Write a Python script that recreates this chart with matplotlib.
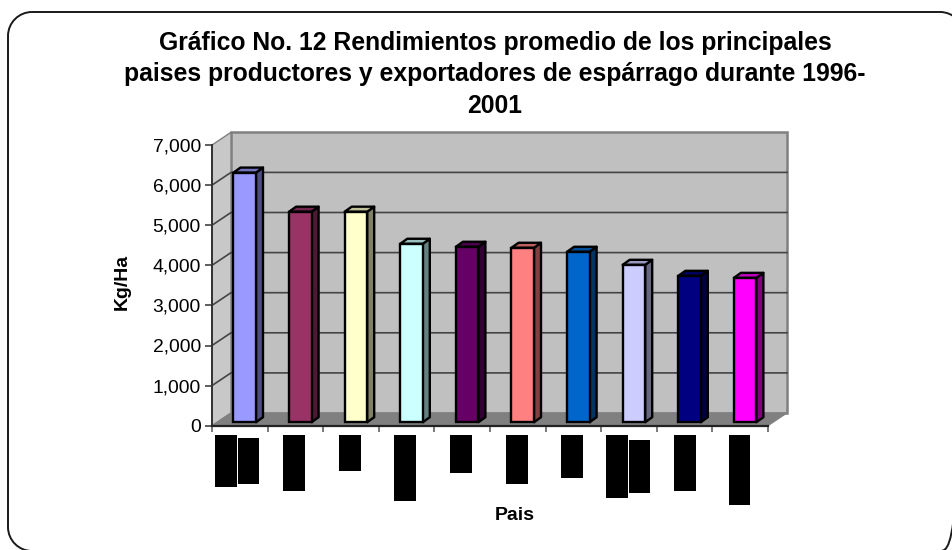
import matplotlib
matplotlib.use("Agg")
import matplotlib.pyplot as plt
from matplotlib.patches import Polygon, PathPatch, Rectangle
from matplotlib.path import Path

plt.rcParams['font.family'] = ['Liberation Sans', 'DejaVu Sans']

# Values
values = [6225, 5250, 5250, 4450, 4375, 4350, 4250, 3925, 3650, 3600]
front_colors = ['#9999FF', '#993366', '#FFFFCC', '#CCFFFF', '#660066',
                '#FF8080', '#0066CC', '#CCCCFF', '#000080', '#FF00FF']
side_colors = ['#4D4D80', '#4D1A33', '#808066', '#668080', '#330033',
               '#804040', '#003366', '#666680', '#000040', '#800080']
top_colors = ['#7373BF', '#73264D', '#BFBF99', '#99BFBF', '#4D004D',
              '#BF6060', '#004D99', '#9999BF', '#000060', '#BF00BF']
y_ticks = [0, 1000, 2000, 3000, 4000, 5000, 6000, 7000]
title_text = ("Gráfico No. 12 Rendimientos promedio de los principales\n"
              "paises productores y exportadores de espárrago durante 1996-\n"
              "2001")
y_label = "Kg/Ha"
x_label = "Pais"
# Blacked-out country labels in the source image: (left, top, right, bottom)
redactions = [(215, 435, 237, 487), (238, 438, 259, 484), (283, 435, 305, 491),
              (339, 435, 361, 471), (394, 435, 416, 501), (450, 435, 472, 473),
              (506, 435, 528, 484), (561, 435, 583, 478), (606, 435, 628, 498),
              (629, 440, 650, 493), (674, 435, 696, 491), (729, 435, 750, 505)]

W, H = 953, 550
fig = plt.figure(figsize=(W / 100, H / 100), dpi=100, facecolor='white')

# Overlay in pixel coordinates for frame, labels and redaction blocks
ov = fig.add_axes([0, 0, 1, 1], zorder=3)
ov.set_xlim(0, W)
ov.set_ylim(H, 0)
ov.axis('off')
ov.patch.set_alpha(0)

# Rounded outer frame with true circular corners
L, T, R, B, r = 8, 12, 964, 551, 24
k = 0.5523 * r
frame = Path(
    [(L + r, T), (R - r, T),
     (R - r + k, T), (R, T + r - k), (R, T + r),
     (R, B - r),
     (R, B - r + k), (R - r + k, B), (R - r, B),
     (L + r, B),
     (L + r - k, B), (L, B - r + k), (L, B - r),
     (L, T + r),
     (L, T + r - k), (L + r - k, T), (L + r, T)],
    [Path.MOVETO, Path.LINETO,
     Path.CURVE4, Path.CURVE4, Path.CURVE4,
     Path.LINETO,
     Path.CURVE4, Path.CURVE4, Path.CURVE4,
     Path.LINETO,
     Path.CURVE4, Path.CURVE4, Path.CURVE4,
     Path.LINETO,
     Path.CURVE4, Path.CURVE4, Path.CURVE4])
ov.add_patch(PathPatch(frame, fc='none', ec='#1A1A1A', lw=1.4))

for l, t, rt, b in redactions:
    ov.add_patch(Rectangle((l, t), rt - l, b - t, fc='black', ec='none'))
ov.text(495, 74.5, title_text, ha='center', va='center', fontsize=17.8,
        fontweight='bold', linespacing=1.40, color='black')
ov.text(122, 282, y_label, rotation=90, ha='center', va='center',
        fontsize=14, fontweight='bold')
ov.text(515, 515, x_label, ha='center', va='center',
        fontsize=14, fontweight='bold')

# Main axes: front plane of the 3-D box
x0, x1, y0, y1 = 212, 768, 425.7, 145
ax = fig.add_axes([x0 / W, 1 - y0 / H, (x1 - x0) / W, (y0 - y1) / H], zorder=2)
ax.set_xlim(0, len(values))
ax.set_ylim(0, 7000)
ax.patch.set_alpha(0)
for s in ('top', 'right', 'bottom'):
    ax.spines[s].set_visible(False)
ax.spines['left'].set_color('#333333')
ax.spines['left'].set_linewidth(1.4)

px = len(values) / (x1 - x0)      # data units per pixel, x
py = 7000 / (y0 - y1)             # data units per pixel, y
DX, DY = 19 * px, 12.7 * py       # depth of box

# Walls and floor
ax.add_patch(Polygon([(DX, DY), (DX, 7000 + DY), (len(values) + DX, 7000 + DY),
                      (len(values) + DX, DY)], closed=True, fc='#C0C0C0',
                     ec='#808080', lw=1.8, clip_on=False, zorder=1))
ax.add_patch(Polygon([(0, 0), (0, 7000), (DX, 7000 + DY), (DX, DY)], closed=True,
                     fc='#C8C8C8', ec='#808080', lw=1.0, clip_on=False, zorder=1))
ax.add_patch(Polygon([(0, 0), (DX, DY), (len(values) + DX, DY), (len(values), 0)],
                     closed=True, fc='#808080', ec='#808080', lw=0.8,
                     clip_on=False, zorder=1))
# Grid on the walls
for v in y_ticks[1:-1]:
    ax.plot([0, DX, len(values) + DX], [v, v + DY, v + DY], color='#444444',
            lw=1.2, clip_on=False, zorder=2)

# Bars
bar_w = 22.5 * px
off = 21.5 * px        # gap from category start to bar front
bx = 7 * px
by = 5 * py
base = 3.5 * py
for i, v in enumerate(values):
    left = i + off
    right = left + bar_w
    top = v + base
    ax.bar(left, v, width=bar_w, bottom=base, align='edge', color=front_colors[i],
           edgecolor='black', linewidth=1.7, zorder=5, clip_on=False)
    ax.add_patch(Polygon([(right, base), (right + bx, base + by), (right + bx, top + by),
                          (right, top)], closed=True, fc=side_colors[i], ec='black',
                         lw=1.7, clip_on=False, zorder=4, joinstyle='round'))
    ax.add_patch(Polygon([(left, top), (left + bx, top + by), (right + bx, top + by),
                          (right, top)], closed=True, fc=top_colors[i], ec='black',
                         lw=1.7, clip_on=False, zorder=4, joinstyle='round'))

ax.set_yticks(y_ticks)
ax.set_yticklabels([f"{v:,}" for v in y_ticks], fontsize=13.9)
ax.tick_params(axis='y', length=5, width=1.1, color='#333333', pad=3)
ax.set_xticks(range(len(values) + 1))
ax.set_xticklabels([])
ax.tick_params(axis='x', length=4, width=1.1, color='#555555')
ax.plot([0, len(values)], [0, 0], color='#222222', lw=1.6, clip_on=False, zorder=3)

fig.savefig('out.png', dpi=100)
